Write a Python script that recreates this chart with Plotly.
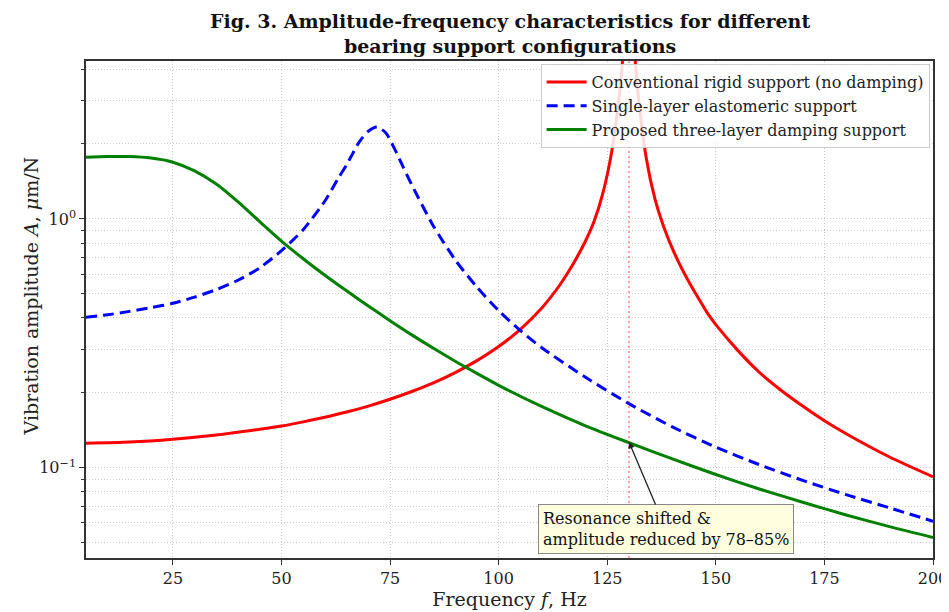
import math
import plotly.graph_objects as go

# ---------------- data ----------------
freq_rigid = [5, 15, 25, 35, 45, 50, 55, 60, 65, 70, 75, 80, 85, 90, 95, 100, 105,
              110, 112, 114, 116, 118, 120, 122, 124, 126, 128, 129, 130, 131, 132,
              134, 136, 138, 140, 142, 144, 146, 148, 150, 155, 160, 165, 170, 175,
              180, 190, 200]
amp_rigid = [0.1256, 0.127, 0.1303, 0.1354, 0.1428, 0.1471, 0.1529, 0.1597, 0.1675,
             0.177, 0.1885, 0.2025, 0.2194, 0.2412, 0.2695, 0.307, 0.36, 0.44, 0.485,
             0.54, 0.61, 0.70, 0.815, 0.98, 1.27, 1.85, 3.4, 5.5, 9.0, 5.5, 3.3, 1.75,
             1.2, 0.93, 0.76, 0.64, 0.55, 0.48, 0.42, 0.376, 0.297, 0.242, 0.205,
             0.177, 0.1545, 0.137, 0.1105, 0.092]

freq_elast = [5, 10, 15, 20, 25, 30, 35, 40, 45, 50, 55, 60, 63, 65, 68, 70, 72, 74,
              76, 78, 80, 85, 90, 95, 100, 105, 110, 120, 130, 140, 150, 160, 170,
              180, 190, 200]
amp_elast = [0.403, 0.412, 0.425, 0.44, 0.458, 0.485, 0.52, 0.567, 0.636, 0.745, 0.905,
             1.18, 1.45, 1.65, 2.05, 2.25, 2.34, 2.22, 1.92, 1.62, 1.37, 0.935, 0.685,
             0.532, 0.428, 0.356, 0.303, 0.231, 0.181, 0.146, 0.121, 0.103, 0.089,
             0.078, 0.069, 0.061]

freq_three = [5, 10, 15, 20, 25, 30, 35, 40, 45, 50, 55, 60, 65, 70, 75, 80, 85, 90,
              95, 100, 110, 120, 130, 140, 150, 160, 170, 180, 190, 200]
amp_three = [1.77, 1.78, 1.78, 1.755, 1.69, 1.56, 1.38, 1.17, 0.975, 0.815, 0.692,
             0.594, 0.514, 0.447, 0.39, 0.342, 0.302, 0.268, 0.2395, 0.2145, 0.176,
             0.1475, 0.1262, 0.1085, 0.094, 0.0822, 0.0727, 0.0646, 0.058, 0.0525]

series_names = ["Conventional rigid support (no damping)",
                "Single-layer elastomeric support",
                "Proposed three-layer damping support"]

x_ticks = [25, 50, 75, 100, 125, 150, 175, 200]
y_major = [0.1, 1]
y_major_text = ["10<sup>\u22121</sup>", "10<sup>0</sup>"]
y_minor = [0.05, 0.06, 0.07, 0.08, 0.09, 0.2, 0.3, 0.4, 0.5, 0.6, 0.7, 0.8, 0.9, 2, 3, 4]

resonance_f = 130
resonance_amp = 0.127
note_text = "Resonance shifted &<br>amplitude reduced by 78\u201385%"
title_text = ("<b>Fig. 3. Amplitude-frequency characteristics for different<br>"
              "bearing support configurations</b>")
y_title = "Vibration amplitude <i>A</i>, <i>\u03bc</i>m/N"
x_title = "Frequency <i>f</i>, Hz"

x_range = [5, 200]
y_range = [0.0434, 4.31]

FONT = "DejaVu Serif"
GRID = "#cccccc"

fig = go.Figure()
fig.add_trace(go.Scatter(x=freq_rigid, y=amp_rigid, mode="lines", name=series_names[0],
                         legendgroup="a",
                         line=dict(color="#ff0000", width=3, shape="spline", smoothing=0.7)))
fig.add_trace(go.Scatter(x=freq_elast, y=amp_elast, mode="lines", name=series_names[1],
                         legendgroup="b",
                         line=dict(color="#0000ff", width=3, dash="11px,6px",
                                   shape="spline", smoothing=0.7)))
fig.add_trace(go.Scatter(x=freq_three, y=amp_three, mode="lines", name=series_names[2],
                         legendgroup="c",
                         line=dict(color="#008000", width=3, shape="spline", smoothing=0.7)))

fig.add_shape(type="line", xref="x", yref="paper", x0=resonance_f, x1=resonance_f,
              y0=0, y1=1, line=dict(color="rgba(255,0,0,0.5)", width=1.5, dash="2px,3px"),
              layer="above")

fig.add_annotation(x=resonance_f, y=math.log10(resonance_amp), xref="x", yref="y",
                   text=note_text, align="left", showarrow=True,
                   arrowhead=2, arrowsize=1, arrowwidth=1.3, arrowcolor="#222222",
                   ax=37, ay=87, standoff=0,
                   bgcolor="#ffffe0", bordercolor="#888888", borderwidth=1, borderpad=4,
                   font=dict(family=FONT, size=16, color="#111111"))

fig.add_annotation(x=0.5, y=1, xref="paper", yref="paper", xanchor="center",
                   yanchor="bottom", yshift=2, showarrow=False, align="center",
                   text=title_text, font=dict(family=FONT, size=19, color="#111111"))

fig.add_annotation(x=0, y=0.5, xref="paper", yref="paper", xanchor="center",
                   yanchor="middle", xshift=-56, yshift=13, textangle=-90,
                   showarrow=False, text=y_title,
                   font=dict(family=FONT, size=19, color="#222222"))

axis_common = dict(showline=True, linecolor="#333333", linewidth=1.5, mirror=True,
                   ticks="outside", ticklen=5, tickcolor="#333333", tickwidth=1,
                   showgrid=True, gridcolor=GRID, griddash="1px,2px", gridwidth=1,
                   zeroline=False, automargin=False,
                   tickfont=dict(family=FONT, size=16, color="#222222"))

fig.update_xaxes(range=x_range, tickvals=x_ticks,
                 title=dict(text=x_title,
                            font=dict(family=FONT, size=19, color="#222222"), standoff=5),
                 **axis_common)
fig.update_yaxes(type="log", range=[math.log10(y_range[0]), math.log10(y_range[1])],
                 tickvals=y_major, ticktext=y_major_text,
                 minor=dict(tickvals=y_minor, ticks="outside", ticklen=3,
                            tickcolor="#333333", showgrid=True, gridcolor=GRID,
                            griddash="1px,2px", gridwidth=1),
                 **axis_common)

# the page places the figure 8px in from the top-left corner of the window
fig.update_layout(
    width=941, height=604,
    margin=dict(l=78, r=16, t=53, b=54, autoexpand=False),
    paper_bgcolor="white", plot_bgcolor="white",
    legend=dict(x=0.996, y=0.994, xanchor="right", yanchor="top",
                bgcolor="rgba(255,255,255,0.85)", bordercolor="#cccccc", borderwidth=1,
                font=dict(family=FONT, size=16, color="#222222"),
                tracegroupgap=0, itemwidth=40),
    showlegend=True,
)

fig.write_html("out.html")
